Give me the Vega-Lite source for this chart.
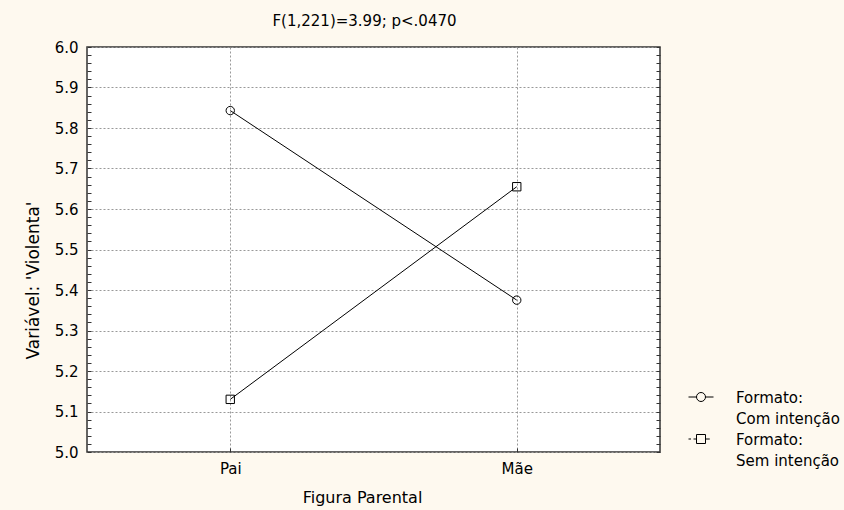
{
  "$schema": "https://vega.github.io/schema/vega-lite/v6.json",
  "width": 573,
  "height": 405,
  "autosize": "none",
  "padding": {"left": 87, "top": 47, "right": 184, "bottom": 58},
  "background": "#FEF9EF",
  "config": {
    "view": {"fill": "white", "stroke": "#333333", "strokeWidth": 1.5},
    "font": "DejaVu Sans",
    "axis": {"labelColor": "black", "titleColor": "black", "tickColor": "#333333", "labelFont": "DejaVu Sans", "titleFont": "DejaVu Sans"},
    "legend": {"title": null, "symbolSize": 625, "symbolStrokeWidth": 1, "symbolStrokeColor": "black", "symbolFillColor": "transparent", "symbolOpacity": 1, "labelFontSize": 15, "labelFont": "DejaVu Sans", "labelColor": "black", "labelBaseline": "top", "labelOffset": 22, "labelLimit": 300},
    "style": {"guide-label": {"lineHeight": 21}}
  },
  "title": {"text": "F(1,221)=3.99; p<.0470", "fontSize": 15, "fontWeight": "normal", "font": "DejaVu Sans", "offset": 11, "anchor": "middle", "dx": -9, "color": "black"},
  "data": {
    "values": [
      {"figura": "Pai", "formato": "Com intenção", "valor": 5.843},
      {"figura": "Mãe", "formato": "Com intenção", "valor": 5.375},
      {"figura": "Pai", "formato": "Sem intenção", "valor": 5.13},
      {"figura": "Mãe", "formato": "Sem intenção", "valor": 5.655}
    ]
  },
  "encoding": {
    "x": {
      "field": "figura", "type": "nominal", "sort": ["Pai", "Mãe"],
      "scale": {"type": "point", "padding": 0.5},
      "axis": {"title": "Figura Parental", "titleFontSize": 16, "titleFontWeight": "normal", "titlePadding": 13, "titleX": 275, "labelAngle": 0, "labelFontSize": 15, "labelPadding": 13, "grid": true, "gridDash": [2, 2], "gridColor": "#999999", "domain": false, "tickSize": -4}
    }
  },
  "layer": [
    {
      "mark": {"type": "line", "color": "black", "strokeWidth": 1},
      "encoding": {
        "detail": {"field": "formato"},
        "y": {
          "field": "valor", "type": "quantitative",
          "scale": {"domain": [5, 6], "nice": false, "zero": false},
          "axis": {
            "title": "Variável: 'Violenta'", "titleFontSize": 17, "titleFontWeight": "normal", "titlePadding": 12, "titleY": 233,
            "values": [5, 5.02, 5.04, 5.06, 5.08, 5.1, 5.12, 5.14, 5.16, 5.18, 5.2, 5.22, 5.24, 5.26, 5.28, 5.3, 5.32, 5.34, 5.36, 5.38, 5.4, 5.42, 5.44, 5.46, 5.48, 5.5, 5.52, 5.54, 5.56, 5.58, 5.6, 5.62, 5.64, 5.66, 5.68, 5.7, 5.72, 5.74, 5.76, 5.78, 5.8, 5.82, 5.84, 5.86, 5.88, 5.9, 5.92, 5.94, 5.96, 5.98, 6],
            "labelExpr": "abs(datum.value*10 - round(datum.value*10)) < 0.01 ? format(datum.value, '.1f') : ''",
            "labelFontSize": 15, "labelPadding": 13, "tickSize": -4, "domain": false,
            "grid": true, "gridDash": [2, 2], "gridColor": "#999999",
            "gridOpacity": {"condition": {"test": "abs(datum.value*10 - round(datum.value*10)) < 0.01", "value": 1}, "value": 0}
          }
        }
      }
    },
    {
      "mark": {"type": "point", "filled": false, "color": "black", "strokeWidth": 1, "opacity": 1},
      "encoding": {
        "y": {
          "field": "valor", "type": "quantitative",
          "scale": {"domain": [5, 6], "nice": false, "zero": false},
          "axis": {
            "orient": "right", "title": null, "labels": false, "grid": false, "domain": false, "tickSize": -4,
            "values": [5, 5.02, 5.04, 5.06, 5.08, 5.1, 5.12, 5.14, 5.16, 5.18, 5.2, 5.22, 5.24, 5.26, 5.28, 5.3, 5.32, 5.34, 5.36, 5.38, 5.4, 5.42, 5.44, 5.46, 5.48, 5.5, 5.52, 5.54, 5.56, 5.58, 5.6, 5.62, 5.64, 5.66, 5.68, 5.7, 5.72, 5.74, 5.76, 5.78, 5.8, 5.82, 5.84, 5.86, 5.88, 5.9, 5.92, 5.94, 5.96, 5.98, 6]
          }
        },
        "shape": {
          "field": "formato", "type": "nominal",
          "scale": {"domain": ["Com intenção", "Sem intenção"], "range": ["circle", "square"]},
          "legend": null
        },
        "size": {"value": 70}
      }
    },
    {
      "transform": [{"filter": "false"}],
      "mark": {"type": "point", "filled": false, "color": "black", "strokeWidth": 1, "opacity": 1},
      "encoding": {
        "y": {"field": "valor", "type": "quantitative", "scale": {"domain": [5, 6], "nice": false, "zero": false}, "axis": null},
        "shape": {
          "field": "formato", "type": "nominal",
          "scale": {
            "domain": ["Com intenção"],
            "range": ["M-1,0.48H-0.36M0.36,0.48H1M-0.36,0.48A0.36,0.36,0,1,1,0.36,0.48A0.36,0.36,0,1,1,-0.36,0.48Z"]
          },
          "legend": {"orient": "none", "legendX": 601, "legendY": 331, "labelExpr": "['Formato:', datum.label]"}
        }
      }
    },
    {
      "transform": [{"filter": "false"}],
      "mark": {"type": "point", "filled": false, "color": "black", "strokeWidth": 1, "opacity": 1},
      "encoding": {
        "y": {"field": "valor", "type": "quantitative", "scale": {"domain": [5, 6], "nice": false, "zero": false}, "axis": null},
        "shape": {
          "field": "formato", "type": "nominal",
          "scale": {
            "domain": ["Sem intenção"],
            "range": ["M-1,0.48H-0.8M-0.6,0.48H-0.36M0.36,0.48H0.7M-0.36,0.12H0.36V0.84H-0.36Z"]
          },
          "legend": {"orient": "none", "legendX": 601, "legendY": 373, "labelExpr": "['Formato:', datum.label]"}
        }
      }
    }
  ],
  "resolve": {"axis": {"y": "independent"}, "scale": {"shape": "independent"}, "legend": {"shape": "independent"}}
}
